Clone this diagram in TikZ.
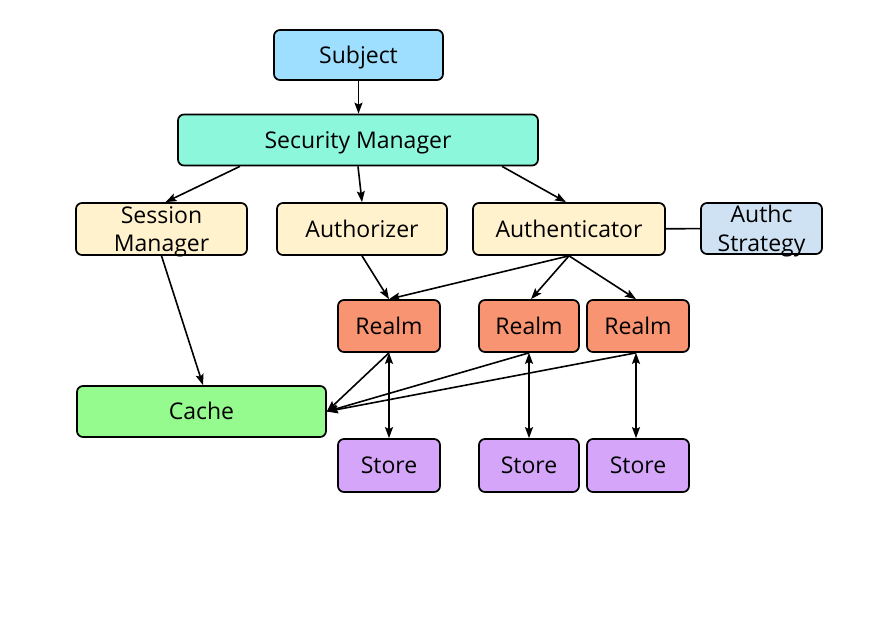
\documentclass[tikz,border=0pt]{standalone}
\usepackage{fontspec}
\setmainfont{Open Sans}
\usetikzlibrary{arrows.meta, calc}
\definecolor{subjblue}{HTML}{9EDEFF}
\definecolor{mgrmint}{HTML}{8CF7DB}
\definecolor{partcream}{HTML}{FFF2CC}
\definecolor{stratblue}{HTML}{CFE2F3}
\definecolor{realmred}{HTML}{F99472}
\definecolor{cachegreen}{HTML}{96FB8F}
\definecolor{storepurple}{HTML}{D4A5F9}
\begin{document}
\begin{tikzpicture}[x=1pt,y=-1pt,
  every node/.style={draw,rounded corners=6pt,line width=1.7pt,inner sep=0pt,align=center,
    font=\fontsize{23}{28.5}\selectfont,text height=16.5pt,text depth=0pt},
  twolines/.style={text height=45pt},
  link/.style={line width=1.6pt,-{Stealth[length=11pt,width=8pt,inset=2pt]}},
  twoway/.style={line width=1.6pt,{Stealth[length=11pt,width=8pt,inset=2pt]}-{Stealth[length=11pt,width=8pt,inset=2pt]}}]
  \useasboundingbox (0,0) rectangle (872,626);
  \path (358.5,55) node[fill=subjblue,minimum width=169pt,minimum height=50pt] (subj) {Subject}
  (358,140) node[fill=mgrmint,minimum width=360pt,minimum height=51pt] (secmgr) {Security Manager}
  (161.5,229) node[twolines,fill=partcream,minimum width=171pt,minimum height=52pt] (sessmgr) {Session\\Manager}
  (362,229) node[fill=partcream,minimum width=170pt,minimum height=52pt] (authz) {Authorizer}
  (569,229) node[fill=partcream,minimum width=192pt,minimum height=52pt] (authc) {Authenticator}
  (761.5,228.5) node[twolines,fill=stratblue,minimum width=121pt,minimum height=51pt] (strat) {Authc\\Strategy};
  \path (389,326) node[fill=realmred,minimum width=102pt,minimum height=52pt] (realm1) {Realm}
  (529,326) node[fill=realmred,minimum width=100pt,minimum height=52pt] (realm2) {Realm}
  (638,326) node[fill=realmred,minimum width=102pt,minimum height=52pt] (realm3) {Realm}
  (201.5,411.5) node[fill=cachegreen,minimum width=249pt,minimum height=51pt] (cache) {Cache}
  (389,465.5) node[fill=storepurple,minimum width=102pt,minimum height=53pt] (store1) {Store}
  (529,465.5) node[fill=storepurple,minimum width=100pt,minimum height=53pt] (store2) {Store}
  (638,465.5) node[fill=storepurple,minimum width=102pt,minimum height=53pt] (store3) {Store};
  \draw[link] (subj.south) -- (subj.south |- secmgr.north);
  \draw[link] ([xshift=-118pt]secmgr.south) -- ([xshift=4pt]sessmgr.north);
  \draw[link] (secmgr.south) -- (authz.north);
  \draw[link] ([xshift=144pt]secmgr.south) -- ([xshift=-3pt]authc.north);
  \draw[line width=1.6pt] (authc) -- (strat);
  \draw[link] (authz.south) -- (realm1.north);
  \draw[link] (authc.south) -- (realm1.north);
  \draw[link] (authc.south) -- ([xshift=2pt]realm2.north);
  \draw[link] (authc.south) -- ([xshift=-2pt]realm3.north);
  \draw[link] (sessmgr.south) -- ([xshift=1.5pt]cache.north);
  \draw[link] (realm1.south) -- (cache.east);
  \draw[link] (realm2.south) -- (cache.east);
  \draw[link] ([xshift=-2pt]realm3.south) -- (cache.east);
  \draw[twoway] (realm1) -- (store1);
  \draw[twoway] (realm2) -- (store2);
  \draw[twoway] ([xshift=-2pt]realm3.south) -- ([xshift=-2pt]store3.north);
\end{tikzpicture}
\end{document}
